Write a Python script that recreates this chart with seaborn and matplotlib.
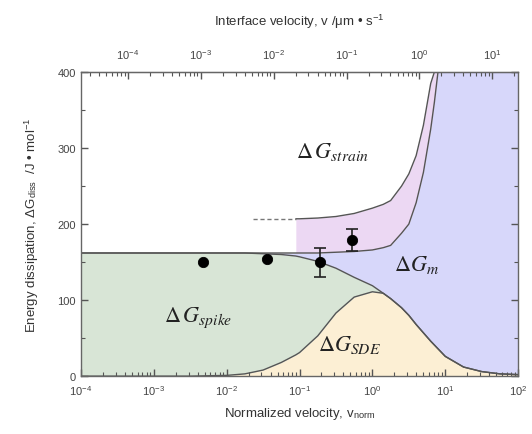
import numpy as np
import pandas as pd
import matplotlib
matplotlib.use("Agg")
import matplotlib.pyplot as plt
import matplotlib.ticker as mticker
import seaborn as sns

# normalized velocity grid
v_norm = [1e-4, 1e-3, 3.16e-3, 1e-2, 1.78e-2, 3.16e-2, 5.62e-2, 8.9e-2, 0.1, 0.178,
          0.316, 0.562, 1.0, 1.41, 1.78, 2.51, 3.16, 3.98, 5.01, 6.31, 7.08, 7.94,
          10.0, 17.8, 31.6, 56.2, 100.0]
# upper edge of SDE (yellow)
g_sde = [0, 0, 0, 1, 3, 8, 18, 28, 31, 53, 83, 104, 111, 109, 102, 90, 80, 68, 57,
         46, 41, 36, 26, 12, 6, 3, 2]
# spike + SDE (upper edge of green / lower edge of blue)
g_low = [162, 162, 162, 162, 162, 161, 160, 158, 157, 151, 142, 130, 119, 109, 102,
         90, 80, 68, 57, 46, 41, 36, 26, 12, 6, 3, 2]
# upper edge of ΔG_m (blue), clipped at top of axis
g_m = [162, 162, 162, 162, 162, 162, 162, 162, 162, 162, 163, 164, 166, 169, 172,
       188, 200, 228, 268, 325, 360, 400, 400, 400, 400, 400, 400]
# upper edge of ΔG_strain (pink)
g_strain = [np.nan] * 7 + [207, 207, 208, 210, 214, 221, 226, 231, 250, 266, 290,
                           330, 385, 400, 400, 400, 400, 400, 400, 400]
dash_v = [0.023, 0.089]
dash_g = [207, 207]

# measured points
pt_v = [0.0048, 0.0355, 0.19, 0.52]
pt_g = [150, 154, 150, 179]
pt_err = [0, 0, 19, 14]

bottom_ticks = [1e-4, 1e-3, 1e-2, 1e-1, 1e0, 1e1, 1e2]
top_ticks = [1e-4, 1e-3, 1e-2, 1e-1, 1e0, 1e1]

df = pd.DataFrame({"v": v_norm, "sde": g_sde, "low": g_low, "m": g_m, "strain": g_strain})
pts = pd.DataFrame({"v": pt_v, "g": pt_g, "err": pt_err})
bars = pts[pts["err"] > 0]

sns.set_style("ticks")
plt.rcParams["font.family"] = ["Liberation Sans", "DejaVu Sans"]
plt.rcParams["mathtext.fontset"] = "stix"
plt.rcParams["axes.axisbelow"] = False

fig = plt.figure(figsize=(5.32, 4.35), dpi=100)
ax = fig.add_axes([0.152, 0.133, 0.822, 0.699])
ax.set_axisbelow(False)

c_line = "#555555"
ax.fill_between(df["v"], 0, df["sde"], color="#fcefd4", lw=0, zorder=0)
ax.fill_between(df["v"], df["sde"], df["low"], color="#d8e5d6", lw=0, zorder=0)
ax.fill_between(df["v"], df["low"], df["m"], color="#d7d7fa", lw=0, zorder=0)
ax.fill_between(df["v"], df["m"], df["strain"], color="#ecd8f3", lw=0, zorder=0)

for col in ["sde", "low", "m", "strain"]:
    sns.lineplot(data=df, x="v", y=col, ax=ax, color=c_line, lw=1.0, sort=False)
ax.plot(dash_v, dash_g, color="#777777", lw=1.0, ls=(0, (3, 2)))

ax.errorbar(bars["v"], bars["g"], yerr=bars["err"], fmt="none", ecolor="#222222",
            elinewidth=1.2, capsize=4, capthick=1.2)
sns.scatterplot(data=pts, x="v", y="g", ax=ax, color="black", s=55, edgecolor="black", zorder=5)

ax.set_xscale("log")
ax.set_xlim(1e-4, 1e2)
ax.set_ylim(0, 400)
ax.set_xticks(bottom_ticks)
ax.xaxis.set_minor_locator(mticker.LogLocator(base=10, subs=np.arange(2, 10), numticks=20))
ax.xaxis.set_minor_formatter(mticker.NullFormatter())
ax.set_yticks([0, 100, 200, 300, 400])
ax.set_yticks([50, 150, 250, 350], minor=True)

tc = "#444444"
kc = "#555555"
for s in ax.spines.values():
    s.set_visible(True)
    s.set_color("#666666")
    s.set_linewidth(1.0)
    s.set_zorder(6)
ax.tick_params(which="both", direction="in", right=True, top=False, colors=kc,
               labelcolor=tc, labelsize=8)
ax.tick_params(which="major", length=5, width=1.0)
ax.tick_params(which="minor", length=3, width=0.8)
ax.tick_params(axis="x", pad=5)

k = 0.226
sec = ax.secondary_xaxis("top", functions=(lambda x: x * k, lambda x: x / k))
sec.set_xticks(top_ticks)
sec.xaxis.set_minor_locator(mticker.LogLocator(base=10, subs=np.arange(2, 10), numticks=20))
sec.xaxis.set_minor_formatter(mticker.NullFormatter())
sec.tick_params(which="both", direction="in", colors=kc, labelcolor=tc, labelsize=8)
sec.tick_params(which="major", length=5, width=1.0, pad=8)
sec.tick_params(which="minor", length=3, width=0.8)
sec.set_xlabel(r"Interface velocity, v /μm • s$^{\mathdefault{-1}}$", fontsize=9.5,
               color="#333333", labelpad=16)

ax.set_xlabel(r"Normalized velocity, v$_{\mathdefault{norm}}$", fontsize=9.5,
              color="#333333", labelpad=6)
ax.set_ylabel(r"Energy dissipation, ΔG$_{\mathdefault{diss}}$  /J • mol$^{\mathdefault{-1}}$",
              fontsize=9.5, color="#333333", labelpad=12)

fs = 16
ax.text(0.089, 296, r"$\Delta\,G_{strain}$", fontsize=fs, ha="left", va="center", color="#222222")
ax.text(2.0, 147, r"$\Delta G_{m}$", fontsize=fs, ha="left", va="center", color="#222222")
ax.text(0.0014, 78, r"$\Delta\,G_{spike}$", fontsize=fs, ha="left", va="center", color="#222222")
ax.text(0.18, 42, r"$\Delta G_{SDE}$", fontsize=fs, ha="left", va="center", color="#222222")

fig.savefig("out.png", dpi=100)
